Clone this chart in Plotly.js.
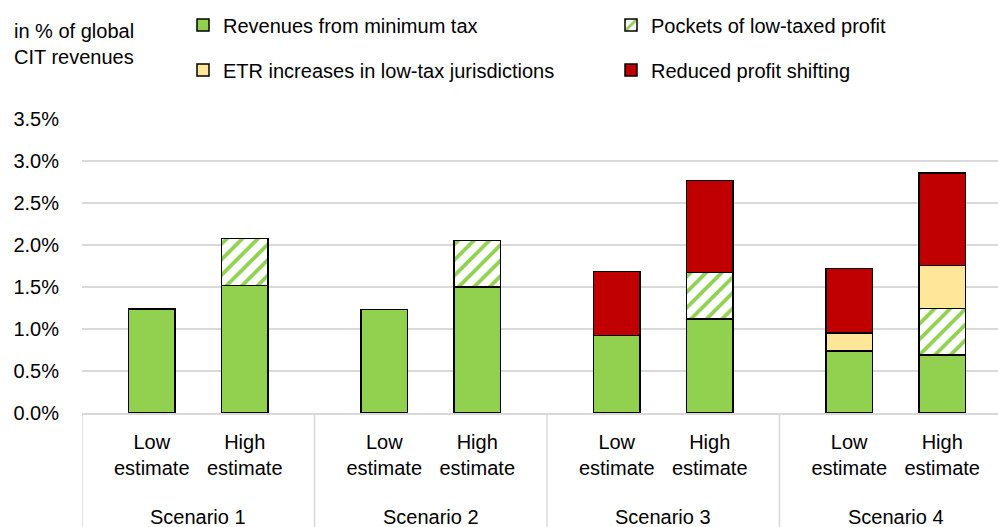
<!DOCTYPE html>
<html>
<head>
<meta charset="utf-8">
<script src="https://cdn.plot.ly/plotly-3.0.1.min.js"></script>
<style>html,body{margin:0;padding:0;background:#fff;}#chart{width:998px;height:527px;}</style>
</head>
<body>
<div id="chart"></div>
<script>
// ---- data (in % of global CIT revenues) ----
var scenarios = ['Scenario 1', 'Scenario 2', 'Scenario 3', 'Scenario 4'];
var estimates = ['Low<br>estimate', 'High<br>estimate'];
var minTax   = [1.24, 1.52, 1.23, 1.50, 0.92, 1.12, 0.74, 0.69];
var pockets  = [null, 0.555, null, 0.555, null, 0.55, null, 0.555];
var etr      = [null, null, null, null, null, null, 0.21, 0.51];
var shifting = [null, null, null, null, 0.765, 1.10, 0.77, 1.10];
var seriesNames = ['Revenues from minimum tax', 'Pockets of low-taxed profit',
                   'ETR increases in low-tax jurisdictions', 'Reduced profit shifting'];
var yTicks = [0, 0.5, 1, 1.5, 2, 2.5, 3, 3.5];

// ---- layout helpers ----
var groupStep = 2.5;
var xs = [], tickText = [];
scenarios.forEach(function (s, g) {
  estimates.forEach(function (e, j) { xs.push(g * groupStep + j); tickText.push(e); });
});
var yTickText = yTicks.map(function (v) { return v.toFixed(1) + '%'; });
var font = {family: '"Liberation Sans", Arial, sans-serif', size: 20, color: '#000'};
var GREEN = '#92D050', RED = '#C00000', YELLOW = '#FFE699';
var outline = {color: '#000', width: 1.5};

var legendIds = ['legend', 'legend2', 'legend3', 'legend4'];
var traces = [
  {name: seriesNames[0], y: minTax, marker: {color: GREEN, line: outline}},
  {name: seriesNames[1], y: pockets, marker: {color: '#fff', line: outline,
     pattern: {shape: '/', fgcolor: GREEN, bgcolor: '#fff', size: 11, solidity: 0.35}}},
  {name: seriesNames[2], y: etr, marker: {color: YELLOW, line: outline}},
  {name: seriesNames[3], y: shifting, marker: {color: RED, line: outline}}
].map(function (t, i) {
  t.type = 'bar'; t.x = xs; t.width = 0.5; t.hoverinfo = 'skip'; t.legend = legendIds[i]; return t;
});

var plotH = 294, plotW = 916, plotL = 82, plotB = 413;
var shapes = [], annotations = [];
scenarios.forEach(function (s, g) {
  var left = g * groupStep - (groupStep - 1) / 2;
  shapes.push({type: 'line', xref: 'x', yref: 'paper', x0: left, x1: left, y0: 0, y1: -0.45,
               line: {color: '#D9D9D9', width: 1.5}});
  annotations.push({text: s, xref: 'x', yref: 'paper', x: g * groupStep + 0.5, y: -104 / plotH,
                    xanchor: 'center', yanchor: 'middle', showarrow: false, font: font});
});
annotations.push({text: 'in % of global<br>CIT revenues', xref: 'paper', yref: 'paper',
                  x: (12 - plotL) / plotW, y: (plotB - 44) / plotH, xanchor: 'left', yanchor: 'middle',
                  align: 'left', showarrow: false, font: font});

// legend entries laid out in two columns and two rows (pixel positions of each entry box)
var legendPos = [[183, 25], [611, 25], [183, 70], [611, 70]];
function makeLegend(p) {
  return {orientation: 'v', font: font, xref: 'paper', yref: 'paper',
          x: (p[0] - plotL) / plotW, y: (plotB - p[1]) / plotH, xanchor: 'left', yanchor: 'middle',
          bgcolor: 'rgba(0,0,0,0)', itemclick: false, itemdoubleclick: false};
}

var layout = {
  width: 998, height: 527,
  margin: {l: plotL, r: 0, t: 119, b: 114, autoexpand: false},
  paper_bgcolor: '#fff', plot_bgcolor: '#fff',
  font: font,
  barmode: 'stack', showlegend: true,
  xaxis: {range: [-0.75, 9.1], tickvals: xs, ticktext: tickText, ticks: '',
          showgrid: false, zeroline: false, showline: true, linecolor: '#D9D9D9', linewidth: 1.5,
          tickfont: font, ticklabelstandoff: 10, fixedrange: true},
  yaxis: {range: [0, 3.5], tickvals: yTicks, ticktext: yTickText, ticks: '',
          showgrid: true, gridcolor: '#D9D9D9', gridwidth: 1.5, zeroline: false, showline: false,
          tickfont: font, ticklabelstandoff: 22, fixedrange: true},
  shapes: shapes, annotations: annotations
};
legendIds.forEach(function (id, i) { layout[id] = makeLegend(legendPos[i]); });

Plotly.newPlot('chart', traces, layout, {displayModeBar: false, staticPlot: true});
</script>
</body>
</html>
